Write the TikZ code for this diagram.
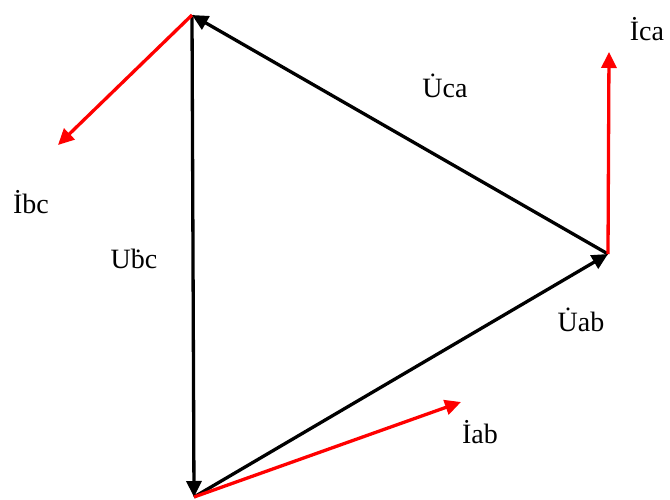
\documentclass[tikz,border=0pt]{standalone}
\usepackage{fontspec}
\setmainfont{Liberation Serif}
\usetikzlibrary{arrows.meta}
\begin{document}
\begin{tikzpicture}[x=1pt,y=-1pt,
  volt/.style={draw=black,line width=3.3pt,-{Triangle[length=16pt,width=15pt]}},
  curr/.style={draw=red,line width=3.3pt,-{Triangle[length=16pt,width=15pt]}},
  lbl/.style={font=\fontsize{28}{30}\selectfont,inner sep=0pt}]
\useasboundingbox (0,0) rectangle (670,499);
\coordinate (A) at (192,15);
\coordinate (B) at (194,497);
\coordinate (C) at (608,254);
\coordinate (Ibc) at (58,145);
\coordinate (Ica) at (609,52);
\coordinate (Iab) at (461,402);
\draw[volt] (C) -- (A);
\draw[volt] (A) -- (B);
\draw[volt] (B) -- (C);
\draw[curr] (A) -- (Ibc);
\draw[curr] (C) -- (Ica);
\draw[curr] (B) -- (Iab);
\node[lbl] (lIbc) at (31,202) {İbc};
\node[lbl] (lIca) at (647,29) {İca};
\node[lbl] (lUca) at (445,86) {\.{U}ca};
\node[lbl] (lUbc) at (134,259) {U\.{b}c};
\node[lbl] (lUab) at (581,320) {\.{U}ab};
\node[lbl] (lIab) at (480,432) {İab};
\end{tikzpicture}
\end{document}
